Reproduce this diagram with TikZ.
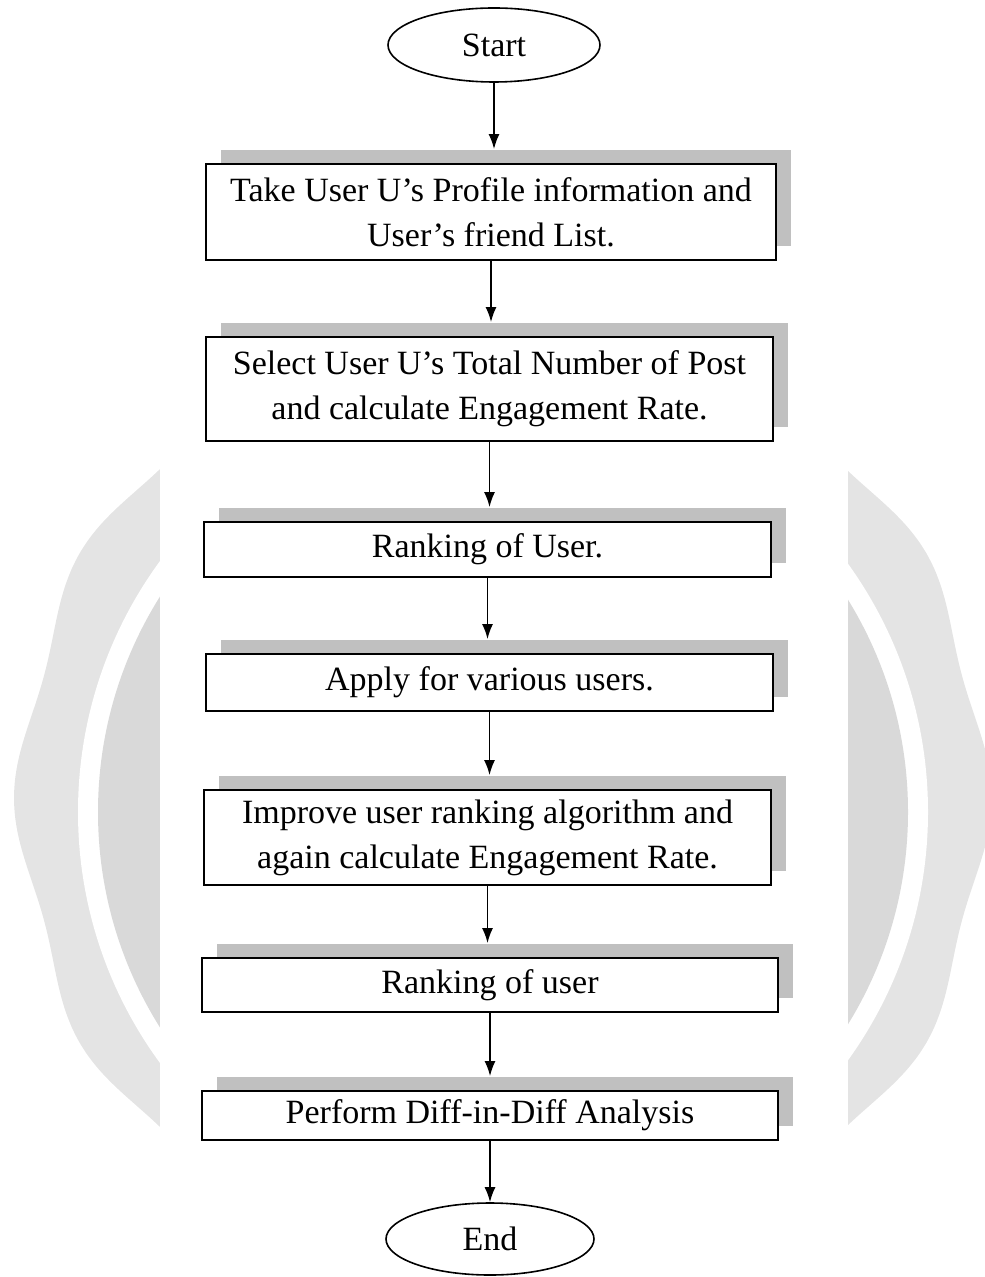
\documentclass[tikz,border=0pt]{standalone}
\usepackage{fontspec}
\setmainfont{Liberation Serif}
\usetikzlibrary{shapes.geometric,shadows,arrows.meta}
\definecolor{sealgray}{HTML}{E4E4E4}
\definecolor{diskgray}{HTML}{D9D9D9}
\definecolor{boxshadow}{HTML}{C0C0C0}
\begin{document}
\begin{tikzpicture}[x=0.5pt,y=-0.5pt,
  every node/.style={font=\fontsize{17}{22.5}\selectfont},
  terminal/.style={draw,ellipse,line width=0.8pt,fill=white,inner sep=0pt},
  stepbox/.style={draw,line width=0.9pt,fill=white,align=center,inner sep=0pt,
    drop shadow={shadow xshift=7.5pt,shadow yshift=7pt,fill=boxshadow,opacity=1}},
  flow/.style={-{Latex[length=7.5pt,width=5.5pt]},line width=0.85pt}]
\useasboundingbox (0,0) rectangle (984,1277);

% watermark seal behind the chart
\fill[sealgray] plot[domain=0:360,samples=181,smooth,variable=\t]
  ({503+(482+7*cos(12*\t))*cos(\t)},{798+(482+7*cos(12*\t))*sin(\t)}) -- cycle;
\fill[white] (503,812) circle[radius=425];
\fill[diskgray] (503,812) circle[radius=405];
\fill[white] (160,0) rectangle (848,1277);

\node[terminal,minimum width=106pt,minimum height=37pt] (start) at (494,45) {Start};

\node[stepbox,minimum width=285pt,minimum height=48pt] (profile) at (491,212)
  {Take User U's Profile information and\\User's friend List.};
\node[stepbox,minimum width=283.5pt,minimum height=52pt] (posts) at (489.5,389)
  {Select User U's Total Number of Post\\and calculate Engagement Rate.};
\node[stepbox,minimum width=283.5pt,minimum height=27.5pt] (rank) at (487.5,549.5)
  {Ranking of User.};
\node[stepbox,minimum width=283.5pt,minimum height=28.5pt] (apply) at (489.5,682.5)
  {Apply for various users.};
\node[stepbox,minimum width=283.5pt,minimum height=47.5pt] (improve) at (487.5,837.5)
  {Improve user ranking algorithm and\\again calculate Engagement Rate.};
\node[stepbox,minimum width=288pt,minimum height=27pt] (rerank) at (490,985)
  {Ranking of user};
\node[stepbox,minimum width=288pt,minimum height=24.5pt] (diff) at (490,1115.5)
  {Perform Diff-in-Diff Analysis};

\node[terminal,minimum width=104pt,minimum height=36pt] (finish) at (490,1239) {End};

% arrows stop on the top of the grey shadow
\draw[flow,shorten >=7pt] (start) -- (start |- profile.north);
\draw[flow,shorten >=7pt] (profile) -- (profile |- posts.north);
\draw[flow,shorten >=7pt] (posts) -- (posts |- rank.north);
\draw[flow,shorten >=7pt] (rank) -- (rank |- apply.north);
\draw[flow,shorten >=7pt] (apply) -- (apply |- improve.north);
\draw[flow,shorten >=7pt] (improve) -- (improve |- rerank.north);
\draw[flow,shorten >=7pt] (rerank) -- (rerank |- diff.north);
\draw[flow] (diff) -- (finish);
\end{tikzpicture}
\end{document}
